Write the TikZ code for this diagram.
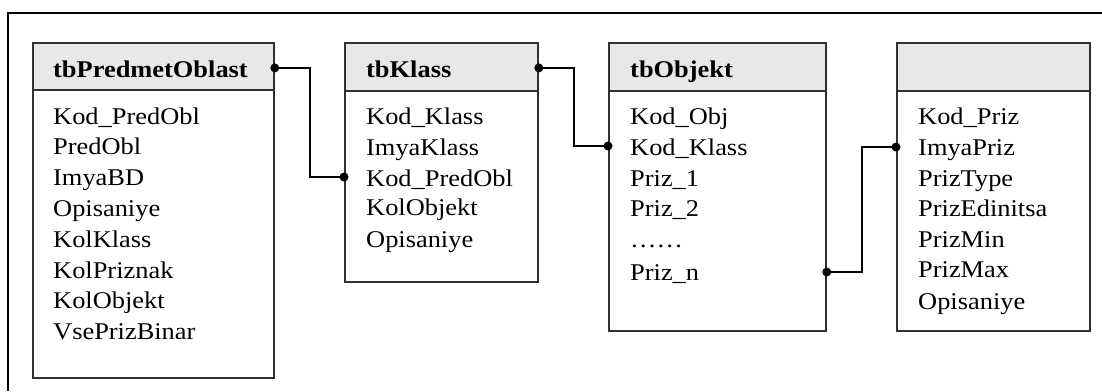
\documentclass[tikz,border=0pt]{standalone}
\usepackage{fontspec}
\setmainfont{Liberation Serif}[FakeStretch=1.1]
\usetikzlibrary{calc}
\definecolor{hdrgray}{HTML}{E8E8E8}
\definecolor{bordergray}{HTML}{303030}
\tikzset{
  tbl/.style={draw=bordergray, line width=1.8pt, rectangle, inner sep=0pt, anchor=north west},
  hdr/.style={draw=bordergray, fill=hdrgray, line width=1.8pt, rectangle, inner sep=0pt, anchor=north west},
  ttl/.style={anchor=base west, inner sep=0pt, font=\fontsize{24}{24}\selectfont\bfseries},
  row/.style={anchor=base west, inner sep=0pt, font=\fontsize{24}{24}\selectfont},
  conn/.style={line width=2.6pt, black},
  dot/.style={circle, fill=black, inner sep=0pt, minimum size=9pt},
  frame/.style={line width=2.2pt, black}
}
\begin{document}
\begin{tikzpicture}[x=1pt,y=-1pt]
\useasboundingbox (0,0) rectangle (1102,391);
\coordinate (fa) at (8,391);
\coordinate (fb) at (8,13);
\coordinate (fc) at (1102,13);
\draw[frame] (fa) -- (fb) -- (fc);

% table 1
\node[tbl, minimum width=241pt, minimum height=335pt] (t1) at (32,42) {};
\node[hdr, minimum width=241pt, minimum height=47pt] (h1) at (32,42) {};
\node[ttl] (h1t) at (53,77) {tbPredmetOblast};
\node[row] (a1) at (53,124) {Kod\_PredObl};
\node[row] (a2) at (53,154.8) {PredObl};
\node[row] (a3) at (53,185.6) {ImyaBD};
\node[row] (a4) at (53,216.4) {Opisaniye};
\node[row] (a5) at (53,247.2) {KolKlass};
\node[row] (a6) at (53,278) {KolPriznak};
\node[row] (a7) at (53,308.8) {KolObjekt};
\node[row] (a8) at (53,339.6) {VsePrizBinar};

% table 2
\node[tbl, minimum width=193pt, minimum height=239pt] (t2) at (344,42) {};
\node[hdr, minimum width=193pt, minimum height=48pt] (h2) at (344,42) {};
\node[ttl] (h2t) at (366,77) {tbKlass};
\node[row] (b1) at (366,124) {Kod\_Klass};
\node[row] (b2) at (366,155) {ImyaKlass};
\node[row] (b3) at (366,186) {Kod\_PredObl};
\node[row] (b4) at (366,215.5) {KolObjekt};
\node[row] (b5) at (366,247) {Opisaniye};

% table 3
\node[tbl, minimum width=217pt, minimum height=288pt] (t3) at (608,42) {};
\node[hdr, minimum width=217pt, minimum height=48pt] (h3) at (608,42) {};
\node[ttl] (h3t) at (630,77) {tbObjekt};
\node[row] (c1) at (630,124.5) {Kod\_Obj};
\node[row] (c2) at (630,155) {Kod\_Klass};
\node[row] (c3) at (630,186) {Priz\_1};
\node[row] (c4) at (630,216) {Priz\_2};
\node[row] (c5) at (630,247) {……};
\node[row] (c6) at (630,280) {Priz\_n};

% table 4
\node[tbl, minimum width=193pt, minimum height=288pt] (t4) at (896,42) {};
\node[hdr, minimum width=193pt, minimum height=48pt] (h4) at (896,42) {};
\node[row] (d1) at (918,124) {Kod\_Priz};
\node[row] (d2) at (918,155) {ImyaPriz};
\node[row] (d3) at (918,186) {PrizType};
\node[row] (d4) at (918,216) {PrizEdinitsa};
\node[row] (d5) at (918,247) {PrizMin};
\node[row] (d6) at (918,277.5) {PrizMax};
\node[row] (d7) at (918,309) {Opisaniye};

% connectors
\coordinate (p1s) at ($(h1.east)+(0,1.5)$);
\coordinate (p1e) at ($(t2.west |- b3.base)+(0,-9)$);
\draw[conn] (p1s) -- ++(35,0) |- (p1e);
\node[dot] (p1a) at (p1s) {};
\node[dot] (p1b) at (p1e) {};

\coordinate (p2s) at ($(h2.east)+(0,1)$);
\coordinate (p2e) at ($(t3.west |- c2.base)+(0,-9)$);
\draw[conn] (p2s) -- ++(35,0) |- (p2e);
\node[dot] (p2a) at (p2s) {};
\node[dot] (p2b) at (p2e) {};

\coordinate (p3s) at ($(t3.east |- c6.base)+(0,-8)$);
\coordinate (p3e) at ($(t4.west |- d2.base)+(0,-8)$);
\draw[conn] (p3s) -- ++(35,0) |- (p3e);
\node[dot] (p3a) at (p3s) {};
\node[dot] (p3b) at (p3e) {};
\end{tikzpicture}
\end{document}
